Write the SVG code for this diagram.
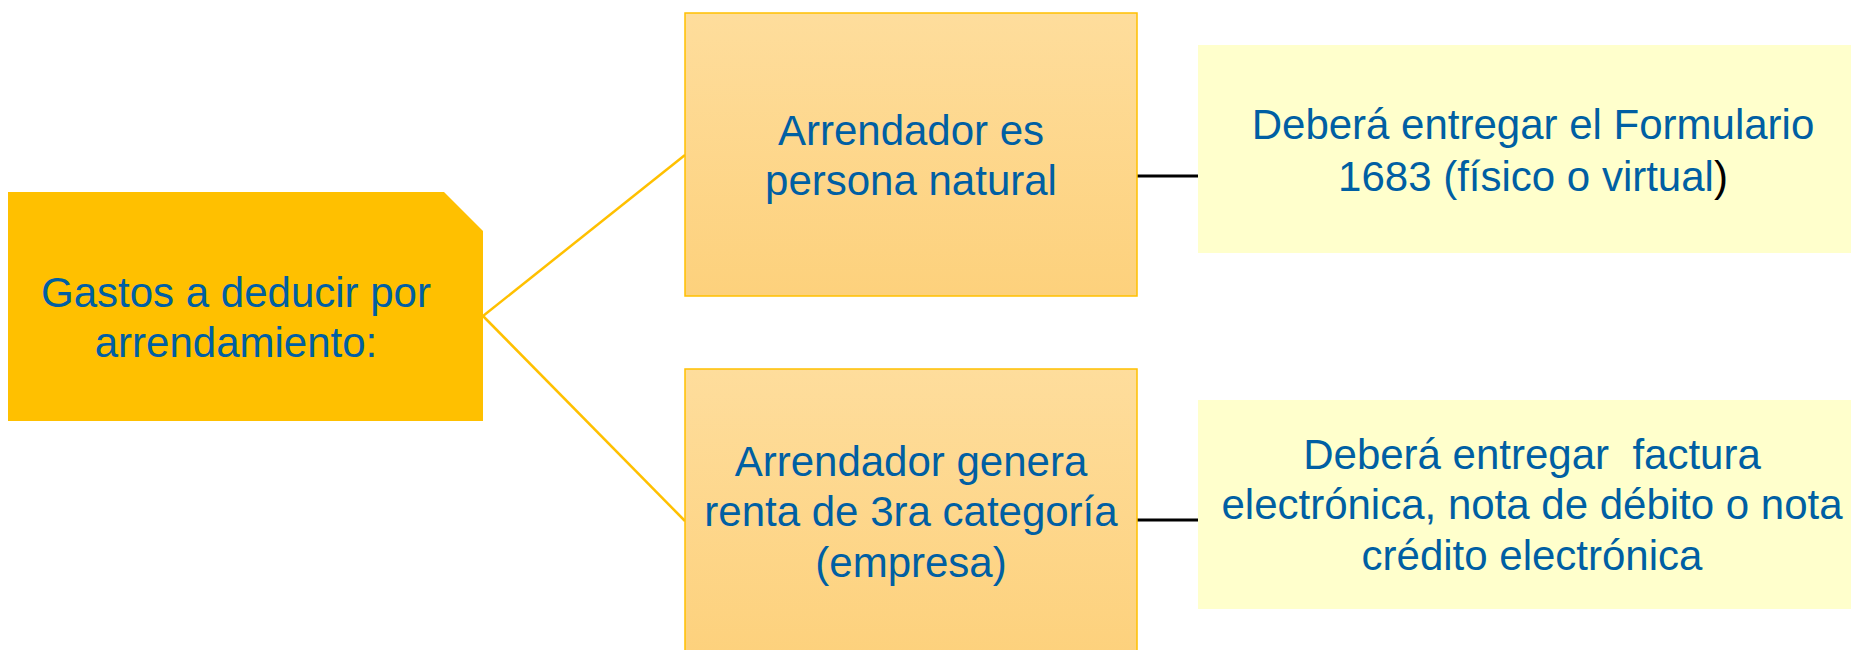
<svg xmlns="http://www.w3.org/2000/svg" width="1851" height="650" viewBox="0 0 1851 650">
<defs>
<linearGradient id="gmid" x1="0" y1="0" x2="0" y2="1">
<stop offset="0" stop-color="#FEDD9C"/>
<stop offset="1" stop-color="#FDD17C"/>
</linearGradient>
<style>
text{font-family:"Liberation Sans",Arial,sans-serif;font-size:42px;fill:#005FA3;text-anchor:middle}
.mid{fill:url(#gmid);stroke:#FFC000;stroke-width:1.5}
.res{fill:#FFFFCC}
.ol{stroke:#FFC000;stroke-width:2.5;fill:none}
.bl{stroke:#000;stroke-width:3;fill:none}
</style>
</defs>
<rect width="1851" height="650" fill="#fff"/>
<g id="connectors">
<line class="ol" x1="483" y1="316" x2="685" y2="155"/>
<line class="ol" x1="483" y1="316" x2="685" y2="521"/>
<line class="bl" x1="1137" y1="176" x2="1198" y2="176"/>
<line class="bl" x1="1137" y1="520" x2="1198" y2="520"/>
</g>
<g id="root">
<path d="M8 192 H444 L483 231 V421 H8 Z" fill="#FFC000"/>
<text x="236" y="307">Gastos a deducir por</text>
<text x="236" y="357">arrendamiento:</text>
</g>
<g id="natural">
<rect class="mid" x="685" y="13" width="452" height="283"/>
<text x="911" y="145">Arrendador es</text>
<text x="911" y="195">persona natural</text>
</g>
<g id="empresa">
<rect class="mid" x="685" y="369" width="452" height="290"/>
<text x="911" y="476">Arrendador genera</text>
<text x="911" y="526">renta de 3ra categoría</text>
<text x="911" y="577">(empresa)</text>
</g>
<g id="formulario">
<rect class="res" x="1198" y="45" width="660" height="208"/>
<text x="1533" y="139">Deberá entregar el Formulario</text>
<text x="1533" y="191">1683 (físico o virtual<tspan fill="#000">)</tspan></text>
</g>
<g id="factura">
<rect class="res" x="1198" y="400" width="660" height="209"/>
<text x="1532" y="469" xml:space="preserve">Deberá entregar  factura</text>
<text x="1532" y="519">electrónica, nota de débito o nota</text>
<text x="1532" y="570">crédito electrónica</text>
</g>
</svg>
